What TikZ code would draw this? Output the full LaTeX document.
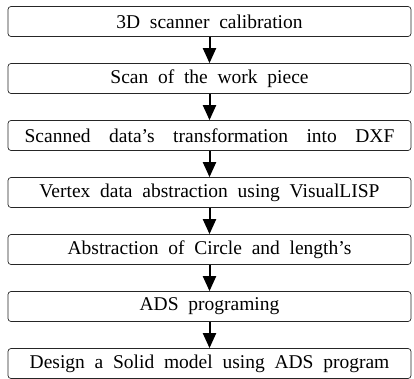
\documentclass[tikz,border=0pt]{standalone}
\usepackage{fontspec}
\setmainfont{Liberation Serif}
\usetikzlibrary{positioning,arrows.meta}
\newcommand\stepfont[1]{\fontsize{19.5}{22}\selectfont\spaceskip=#1\relax}

\begin{document}
\begin{tikzpicture}[node distance=57pt,on grid,
    stepbox/.style={draw=black!85,line width=0.7pt,rounded corners=3pt,
      minimum width=403pt,minimum height=30pt,inner sep=0pt,
      font=\stepfont{0.5em}},
    flow/.style={-{Triangle[width=13pt,length=15pt]},line width=2pt}]
    \useasboundingbox (0pt,0pt) rectangle (414pt,-379pt);
	   \node[stepbox] (calib) at (209.5pt,-21.5pt) {3D scanner calibration};
	   \node[stepbox] (scan) [below=of calib] {Scan of the work piece};
	   \node[stepbox,font=\stepfont{0.95em}] (dxf) [below=of scan]
	        {Scanned data's transformation into DXF};
	   \node[stepbox] (vertex) [below=of dxf] {Vertex data abstraction using VisualLISP};
	   \node[stepbox] (circle) [below=of vertex] {Abstraction of Circle and length's};
	   \node[stepbox] (ads) [below=of circle] {ADS programing};
	   \node[stepbox] (solid) [below=of ads] {Design a Solid model using ADS program};
	    \draw[flow] (calib) -- (scan);
	    \draw[flow] (scan) -- (dxf);
	    \draw[flow] (dxf) -- (vertex);
	    \draw[flow] (vertex) -- (circle);
	    \draw[flow] (circle) -- (ads);
	    \draw[flow] (ads) -- (solid);
	\end{tikzpicture}
\end{document}
